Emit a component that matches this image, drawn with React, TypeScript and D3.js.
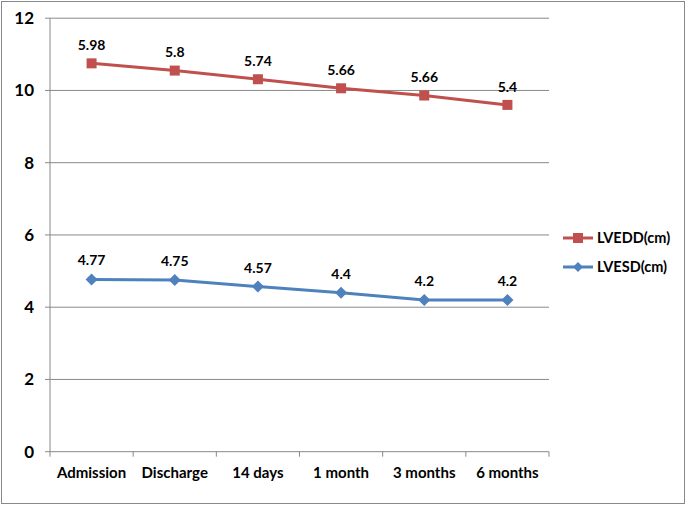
import React from "react";
import * as d3 from "d3";

const categories = ["Admission", "Discharge", "14 days", "1 month", "3 months", "6 months"];
const lvedd = [5.98, 5.8, 5.74, 5.66, 5.66, 5.4];
const lvesd = [4.77, 4.75, 4.57, 4.4, 4.2, 4.2];
const yTicks = [0, 2, 4, 6, 8, 10, 12];
const seriesNames = ["LVEDD(cm)", "LVESD(cm)"];

const W = 686, H = 505;
const L = 50, R = 549, T = 18.2, B = 451.7;
const RED = "#C0504D", BLUE = "#4F81BD";
const FONT = "Lato, 'Open Sans', sans-serif";

export default function App() {
  const x = d3.scaleBand().domain(categories).range([L, R]);
  const y = d3.scaleLinear().domain([0, 12]).range([B, T]);
  const cx = (c: string) => (x(c) as number) + x.bandwidth() / 2;
  const stacked = lvedd.map((v, i) => v + lvesd[i]);
  const line = d3.line<[number, number]>().x(d => d[0]).y(d => d[1]);
  const redPts: [number, number][] = categories.map((c, i) => [cx(c), y(stacked[i])]);
  const bluePts: [number, number][] = categories.map((c, i) => [cx(c), y(lvesd[i])]);
  return (
    <svg width={W} height={H} style={{ position: "absolute", left: 0, top: 0 }}>
      <rect x={0} y={0} width={W} height={H} fill="white" />
      <rect x={1.5} y={1.5} width={W - 3} height={H - 3} fill="none" stroke="#888" strokeWidth={1} />
      {yTicks.map(t => (
        <g key={t}>
          <line x1={L - 5} x2={R} y1={y(t)} y2={y(t)} stroke="#888" strokeWidth={1} />
          <text x={34} y={y(t)} dy="0.35em" textAnchor="end" fontFamily={FONT} fontWeight="bold" fontSize={17} fill="#000">{t}</text>
        </g>
      ))}
      <line x1={L} x2={L} y1={T} y2={B} stroke="#888" strokeWidth={1} />
      {categories.map((c, i) => (
        <g key={c}>
          <line x1={(x(c) as number) + x.bandwidth()} x2={(x(c) as number) + x.bandwidth()} y1={B} y2={B + 5} stroke="#888" />
          <text x={cx(c)} y={B + 21} dy="0.35em" textAnchor="middle" fontFamily={FONT} fontWeight="bold" fontSize={15} fill="#000">{c}</text>
        </g>
      ))}
      <line x1={L} x2={L} y1={B} y2={B + 5} stroke="#888" />
      <path d={line(redPts) as string} fill="none" stroke={RED} strokeWidth={3} />
      <path d={line(bluePts) as string} fill="none" stroke={BLUE} strokeWidth={3} />
      {redPts.map((p, i) => (
        <g key={"r" + i}>
          <rect x={p[0] - 5} y={p[1] - 5} width={10} height={10} fill={RED} />
          <text x={p[0]} y={p[1] - 18} dy="0.35em" textAnchor="middle" fontFamily={FONT} fontWeight="bold" fontSize={14} fill="#000">{lvedd[i]}</text>
        </g>
      ))}
      {bluePts.map((p, i) => (
        <g key={"b" + i}>
          <path d={`M${p[0]},${p[1] - 6}L${p[0] + 6},${p[1]}L${p[0]},${p[1] + 6}L${p[0] - 6},${p[1]}Z`} fill={BLUE} />
          <text x={p[0]} y={p[1] - 19} dy="0.35em" textAnchor="middle" fontFamily={FONT} fontWeight="bold" fontSize={14} fill="#000">{lvesd[i]}</text>
        </g>
      ))}
      {seriesNames.map((n, i) => {
        const ly = 238 + i * 29;
        const col = i === 0 ? RED : BLUE;
        return (
          <g key={n}>
            <line x1={563} x2={593} y1={ly} y2={ly} stroke={col} strokeWidth={3} />
            {i === 0 ? (
              <rect x={573} y={ly - 5} width={10} height={10} fill={col} />
            ) : (
              <path d={`M578,${ly - 5}L583,${ly}L578,${ly + 5}L573,${ly}Z`} fill={col} />
            )}
            <text x={597} y={ly} dy="0.35em" fontFamily={FONT} fontWeight="bold" fontSize={14.5} fill="#000">{n}</text>
          </g>
        );
      })}
    </svg>
  );
}
